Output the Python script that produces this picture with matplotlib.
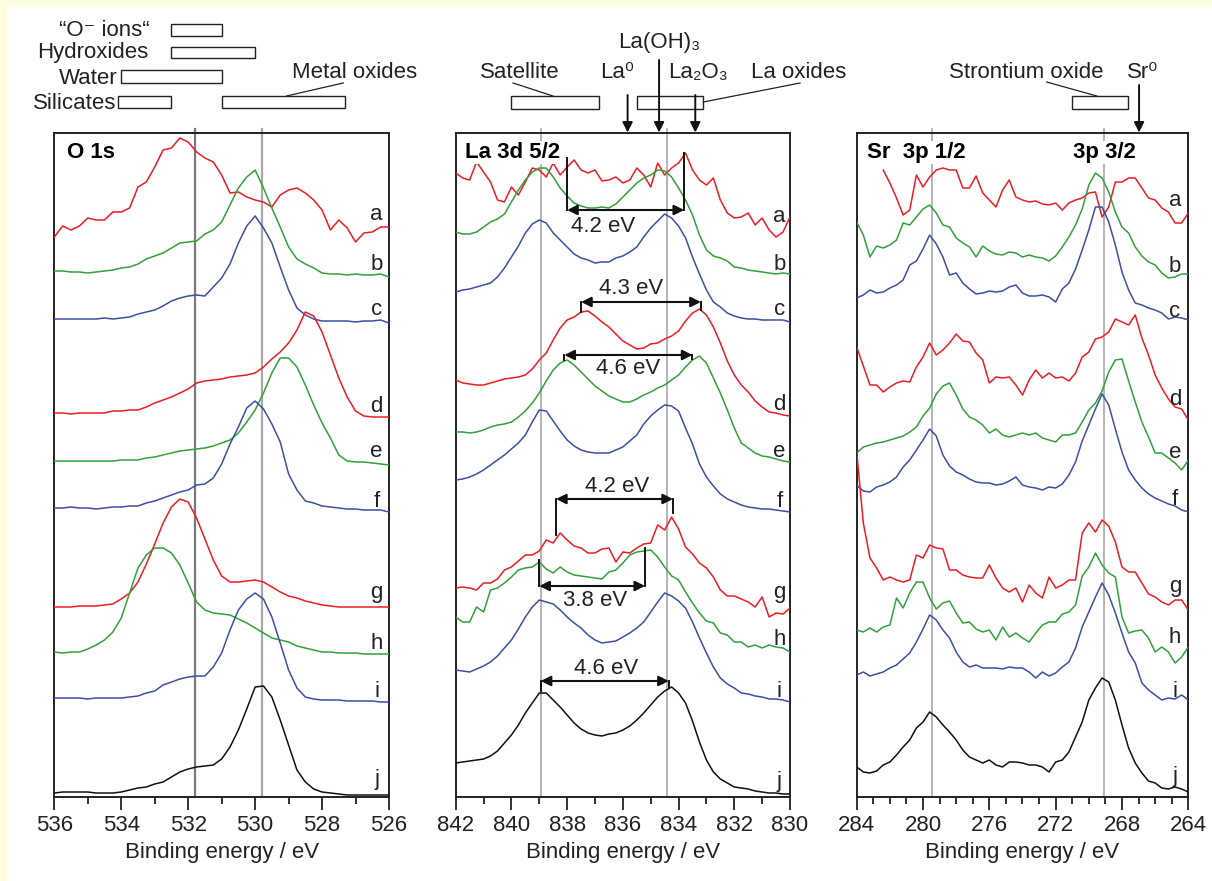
import matplotlib
matplotlib.use('Agg')
import matplotlib.pyplot as plt
import numpy as np
from matplotlib.patches import Rectangle
from matplotlib.ticker import MultipleLocator

plt.rcParams['font.family'] = ['Liberation Sans', 'DejaVu Sans']

# energy grids of the three regions (eV)
e_o1s = np.linspace(536, 526, 41)
e_la = np.linspace(842, 830, 49)
e_sr = np.linspace(284, 264, 51)

labels = ['a', 'b', 'c', 'd', 'e', 'f', 'g', 'h', 'i', 'j']
colors = ['#ed1c24', '#33a03c', '#3d4fa1'] * 3 + ['#111111']

# O 1s spectra, stacked intensity (a.u.)
o1s = {
    'a': [560, 571, 567, 571, 579, 577, 577, 585, 585, 589, 610, 615, 630, 647, 649, 659, 655, 645, 639, 635, 622,
          604, 605, 600, 597, 595, 590, 602, 607, 609, 604, 597, 587, 567, 577, 569, 555, 564, 565, 570, 570],
    'b': [526, 526, 525, 525, 524, 525, 526, 527, 529, 530, 533, 538, 541, 544, 549, 554, 555, 556, 563, 567, 575,
          592, 609, 620, 627, 609, 589, 570, 550, 538, 533, 529, 524, 523, 523, 522, 523, 522, 522, 523, 520],
    'c': [478, 478, 478, 478, 478, 478, 479, 478, 479, 480, 483, 485, 487, 491, 496, 499, 501, 502, 501, 510, 519,
          533, 554, 571, 581, 569, 554, 530, 507, 489, 482, 478, 476, 476, 476, 476, 475, 476, 476, 477, 474],
    'd': [384, 384, 383, 384, 384, 384, 384, 386, 386, 387, 387, 390, 394, 397, 400, 404, 408, 414, 416, 417, 418,
          420, 421, 422, 424, 430, 438, 445, 454, 467, 485, 481, 465, 442, 419, 400, 386, 381, 380, 380, 380],
    'e': [336, 336, 336, 336, 336, 336, 336, 336, 337, 337, 337, 339, 340, 342, 344, 346, 347, 348, 349, 351, 354,
          357, 364, 375, 387, 404, 424, 439, 439, 430, 412, 392, 374, 359, 342, 336, 335, 335, 334, 333, 332],
    'f': [289, 289, 290, 289, 289, 288, 289, 290, 290, 291, 291, 294, 296, 299, 302, 305, 307, 312, 313, 319, 333,
          353, 370, 389, 396, 388, 373, 355, 323, 307, 296, 294, 291, 290, 289, 288, 288, 287, 287, 287, 285],
    'g': [190, 190, 190, 191, 191, 191, 192, 193, 198, 204, 215, 233, 253, 274, 290, 298, 295, 279, 258, 237, 221,
          215, 215, 216, 217, 215, 210, 205, 201, 199, 196, 194, 192, 191, 190, 190, 190, 190, 190, 190, 190],
    'h': [145, 144, 145, 145, 148, 152, 157, 165, 179, 204, 229, 242, 249, 249, 244, 232, 214, 195, 187, 184, 183,
          182, 178, 174, 169, 164, 159, 157, 155, 151, 149, 147, 145, 145, 144, 144, 144, 143, 143, 143, 143],
    'i': [99, 99, 99, 99, 98, 99, 99, 99, 99, 100, 101, 104, 106, 112, 115, 118, 120, 121, 121, 130, 144,
          167, 187, 198, 204, 198, 180, 154, 127, 109, 100, 98, 97, 97, 97, 96, 96, 96, 96, 95, 95],
    'j': [4, 5, 5, 5, 5, 4, 4, 4, 5, 7, 9, 10, 13, 15, 20, 25, 28, 30, 31, 32, 38,
          50, 67, 88, 110, 111, 100, 77, 52, 27, 15, 8, 5, 4, 3, 2, 2, 2, 2, 2, 2],
}

# La 3d 5/2 spectra
la3d = {
    'a': [624, 619, 617, 635, 625, 615, 597, 595, 610, 602, 615, 629, 627, 620, 634, 622, 630, 637, 627, 624, 627, 616,
          617, 620, 614, 617, 629, 622, 610, 634, 622, 629, 634, 644, 627, 617, 612, 619, 597, 584, 579, 580, 584, 572,
          579, 567, 560, 565, 580],
    'b': [565, 563, 563, 565, 570, 575, 578, 583, 595, 607, 617, 625, 629, 629, 620, 609, 601, 594, 591, 589, 589, 590,
          589, 593, 600, 607, 614, 619, 622, 627, 626, 620, 609, 597, 582, 562, 547, 541, 539, 536, 530, 529, 527, 526,
          525, 524, 523, 524, 523],
    'c': [505, 507, 508, 510, 512, 514, 520, 529, 540, 551, 564, 573, 577, 574, 564, 557, 550, 543, 539, 537, 534, 535,
          535, 539, 541, 545, 550, 560, 569, 576, 583, 579, 571, 559, 540, 523, 507, 495, 490, 484, 481, 479, 478, 478,
          477, 477, 477, 477, 475],
    'd': [417, 414, 413, 412, 412, 414, 416, 418, 419, 420, 422, 428, 437, 444, 457, 469, 477, 480, 485, 486, 481, 475,
          470, 463, 456, 452, 448, 449, 453, 454, 458, 461, 466, 476, 484, 488, 482, 470, 454, 436, 422, 412, 405, 396,
          390, 385, 384, 382, 381],
    'e': [365, 365, 364, 365, 367, 370, 372, 373, 375, 380, 386, 394, 404, 416, 427, 434, 437, 432, 425, 418, 411, 406,
          401, 398, 395, 395, 398, 402, 405, 409, 412, 417, 422, 430, 437, 441, 434, 419, 404, 387, 369, 354, 349, 344,
          341, 340, 338, 336, 335],
    'f': [317, 318, 320, 323, 327, 332, 337, 342, 348, 354, 362, 375, 387, 386, 376, 366, 357, 351, 347, 345, 344, 344,
          344, 347, 350, 356, 362, 373, 381, 387, 392, 391, 386, 369, 353, 333, 320, 311, 303, 298, 295, 292, 290, 289,
          288, 288, 287, 286, 285],
    'g': [209, 210, 209, 207, 214, 214, 218, 227, 230, 236, 242, 242, 246, 257, 254, 264, 257, 251, 249, 244, 244, 248,
          249, 235, 245, 244, 249, 253, 254, 272, 267, 280, 268, 250, 243, 234, 229, 220, 207, 201, 201, 198, 195, 190,
          200, 180, 184, 183, 189],
    'h': [180, 175, 175, 190, 185, 207, 209, 214, 220, 227, 229, 230, 235, 228, 224, 230, 225, 222, 221, 220, 219, 218,
          225, 227, 234, 242, 245, 246, 247, 240, 230, 221, 217, 205, 194, 184, 176, 174, 164, 162, 155, 155, 150, 152,
          149, 152, 150, 149, 145],
    'i': [127, 126, 125, 128, 131, 135, 141, 149, 157, 168, 180, 190, 197, 195, 193, 187, 180, 174, 169, 162, 157, 154,
          155, 156, 160, 164, 169, 175, 185, 195, 204, 201, 196, 189, 175, 159, 144, 130, 119, 113, 109, 104, 103, 101,
          100, 98, 98, 97, 95],
    'j': [34, 35, 36, 37, 38, 41, 46, 54, 62, 72, 84, 94, 104, 104, 97, 90, 82, 74, 68, 64, 62, 61, 63, 64, 67, 71, 77,
          84, 92, 100, 106, 110, 104, 94, 76, 55, 37, 25, 18, 14, 10, 9, 8, 6, 5, 4, 4, 3, 3],
}

# Sr 3p spectra
nan = np.nan
sr3p = {
    'a': [nan, nan, nan, nan, 627, 614, 599, 582, 587, 622, 610, 620, 627, 629, 627, 627, 609, 609, 621, 604, 597, 590,
          607, 617, 600, 597, 595, 596, 593, 592, 594, 587, 594, 597, 599, 604, 605, 580, 590, 615, 615, 619, 619, 609,
          599, 597, 589, 585, 574, 574, 584],
    'b': [575, 562, 540, 551, 549, 552, 557, 574, 572, 580, 588, 592, 584, 572, 570, 559, 554, 550, 540, 551, 546, 543,
          542, 545, 544, 540, 542, 540, 539, 536, 541, 550, 560, 572, 588, 612, 624, 619, 605, 585, 570, 564, 550, 541,
          535, 532, 524, 519, 520, 523, 523],
    'c': [499, 502, 507, 504, 505, 509, 512, 517, 532, 536, 548, 562, 553, 540, 522, 524, 514, 508, 503, 504, 506, 505,
          506, 510, 512, 504, 501, 501, 502, 500, 495, 508, 514, 528, 547, 567, 590, 590, 575, 552, 525, 507, 494, 492,
          489, 487, 484, 478, 480, 479, 477],
    'd': [450, 431, 412, 412, 405, 410, 414, 416, 415, 430, 440, 454, 442, 447, 454, 463, 456, 455, 444, 437, 414, 420,
          419, 420, 412, 402, 417, 427, 419, 424, 419, 420, 416, 424, 440, 445, 458, 460, 465, 478, 475, 472, 482, 459,
          442, 422, 409, 398, 390, 388, 377],
    'e': [344, 350, 352, 354, 355, 357, 359, 361, 365, 370, 381, 389, 403, 411, 414, 402, 388, 380, 377, 372, 364, 368,
          362, 360, 362, 364, 362, 364, 359, 357, 355, 362, 362, 364, 375, 387, 394, 406, 425, 437, 438, 416, 395, 375,
          360, 344, 344, 339, 334, 327, 337],
    'f': [312, 306, 305, 310, 312, 315, 320, 330, 337, 347, 357, 368, 361, 342, 331, 325, 322, 318, 315, 314, 314, 312,
          313, 316, 320, 312, 310, 309, 307, 310, 309, 313, 322, 335, 356, 372, 388, 403, 392, 368, 345, 327, 317, 309,
          303, 299, 296, 293, 291, 287, 285],
    'g': [345, 274, 239, 229, 217, 220, 217, 215, 217, 242, 239, 252, 249, 248, 227, 227, 222, 220, 219, 219, 232, 219,
          209, 205, 209, 195, 212, 204, 199, 220, 209, 212, 217, 217, 264, 274, 265, 277, 271, 255, 230, 225, 225, 214,
          203, 200, 195, 192, 197, 197, 187],
    'h': [167, 165, 169, 165, 170, 172, 199, 189, 204, 215, 215, 199, 188, 194, 196, 184, 174, 175, 168, 165, 167, 157,
          170, 160, 164, 159, 155, 164, 172, 175, 175, 183, 185, 192, 221, 230, 244, 232, 224, 220, 180, 164, 166, 167,
          159, 145, 150, 145, 134, 140, 150],
    'i': [122, 125, 121, 123, 125, 129, 132, 138, 144, 155, 168, 182, 177, 167, 159, 145, 135, 130, 132, 129, 129, 129,
          128, 130, 129, 129, 125, 119, 125, 121, 124, 130, 135, 149, 170, 185, 200, 214, 202, 184, 164, 145, 134, 114,
          107, 102, 97, 99, 98, 102, 97],
    'j': [30, 25, 24, 26, 32, 35, 42, 50, 57, 69, 75, 85, 80, 72, 65, 57, 47, 40, 37, 34, 37, 32, 30, 35, 35, 34, 32,
          32, 30, 25, 35, 37, 45, 60, 75, 97, 109, 119, 115, 97, 72, 49, 34, 24, 16, 14, 9, 8, 10, 8, 5],
}

# baseline heights of the a..j letters
label_y_o1s = [577, 527, 482, 385, 340, 290, 199, 148, 100, 12]
label_y_la = [575, 527, 482, 387, 340, 290, 199, 152, 100, 10]
label_y_sr = [591, 525, 480, 392, 339, 292, 205, 154, 100, 15]

# reference energies (eV)
o1s_lines = [531.8, 529.8]
la_lines = [838.95, 834.4]
sr_lines = [279.45, 269.1]

# La 3d multiplet splittings: left peak energy, splitting, arrow height
split_left = [838.0, 837.5, 838.1, 838.4, 839.0, 838.95]
split_val = [4.2, 4.3, 4.6, 4.2, 3.8, 4.6]
split_y = [587, 495, 442, 298, 211, 116]
split_left_end = [639, 485, 437, 262, 237, 106]
split_right_end = [644, 487, 438, 284, 249, 110]
split_text_x = [836.7, 835.7, 835.8, 836.2, 837.0, 836.6]
split_text_y = [570, 509, 429, 310, 197, 128]

YMAX = 664.5
fs = 16

fig = plt.figure(figsize=(12.12, 8.81), dpi=100, facecolor='#fffde0')
fig.add_artist(Rectangle((7 / 1212, 0), 1, 874 / 881, transform=fig.transFigure,
                         facecolor='white', edgecolor='none', zorder=-5))

bottom, height = 84 / 881, 664.5 / 881
ax1 = fig.add_axes([54.3 / 1212, bottom, 334.7 / 1212, height])
ax2 = fig.add_axes([455.7 / 1212, bottom, 334.3 / 1212, height])
ax3 = fig.add_axes([856.7 / 1212, bottom, 331.6 / 1212, height])


def setup(ax, xlim, major):
    ax.set_xlim(*xlim)
    ax.set_ylim(0, YMAX)
    ax.set_yticks([])
    ax.xaxis.set_major_locator(MultipleLocator(major))
    ax.xaxis.set_minor_locator(MultipleLocator(1))
    ax.tick_params(axis='x', which='major', direction='out', length=9, width=1.3,
                   labelsize=fs, pad=4, colors='#222222')
    ax.tick_params(axis='x', which='minor', direction='out', length=5, width=1.3, colors='#222222')
    for s in ax.spines.values():
        s.set_linewidth(1.4)
        s.set_color('#222222')
    ax.set_xlabel('Binding energy / eV', fontsize=fs, labelpad=4, color='#222222')


def draw_spectra(ax, energy, spectra, label_x, label_y):
    for lab, col, ly in zip(labels, colors, label_y):
        ax.plot(energy, spectra[lab], color=col, lw=1.1, zorder=3)
        ax.text(label_x, ly, lab, fontsize=fs, ha='center', va='baseline', color='#222222', zorder=4)


def box(ax, e0, e1, y0, y1):
    ax.add_patch(Rectangle((min(e0, e1), y0), abs(e1 - e0), y1 - y0, facecolor='white',
                           edgecolor='#222222', lw=1.0, clip_on=False))


def down_arrow(ax, e, ytop):
    ax.annotate('', xy=(e, YMAX), xytext=(e, ytop), annotation_clip=False,
                arrowprops=dict(arrowstyle='-|>', color='#111111', lw=1.4, mutation_scale=15,
                                shrinkA=0, shrinkB=0))


def note(ax, x, y, s, ha='center'):
    ax.text(x, y, s, fontsize=fs, ha=ha, va='baseline', color='#222222', clip_on=False)


# ---- O 1s ----
setup(ax1, (536, 526), 2)
ax1.axvline(o1s_lines[0], color='#7a7a7a', lw=1.6, ymax=1.005, clip_on=False, zorder=1)
ax1.axvline(o1s_lines[1], color='#a8a8a8', lw=1.6, ymax=1.005, clip_on=False, zorder=1)
draw_spectra(ax1, e_o1s, o1s, 526.37, label_y_o1s)
ax1.text(535.63, 639, 'O 1s', fontsize=fs, fontweight='bold', va='baseline', zorder=5,
         bbox=dict(facecolor='white', edgecolor='none', pad=1))

note(ax1, 533.14, 761, '“O⁻ ions“', ha='right')
box(ax1, 532.5, 531.0, 761, 773)
note(ax1, 533.2, 739, 'Hydroxides', ha='right')
box(ax1, 532.5, 530.0, 739, 750)
note(ax1, 534.1, 713, 'Water', ha='right')
box(ax1, 534.0, 531.0, 714, 727)
note(ax1, 534.14, 688, 'Silicates', ha='right')
box(ax1, 534.1, 532.5, 689, 701)
box(ax1, 531.0, 527.3, 689, 701)
note(ax1, 527.04, 719, 'Metal oxides')
ax1.plot([527.37, 529.06], [714, 701], color='#222222', lw=0.9, clip_on=False)

# ---- La 3d 5/2 ----
setup(ax2, (842, 830), 2)
for e in la_lines:
    ax2.axvline(e, color='#a8a8a8', lw=1.2, ymax=1.005, clip_on=False, zorder=1)
draw_spectra(ax2, e_la, la3d, 830.38, label_y_la)
ax2.text(841.67, 639, 'La 3d 5/2', fontsize=fs, fontweight='bold', va='baseline', zorder=5,
         bbox=dict(facecolor='white', edgecolor='none', pad=1))

for left, val, y, yl, yr, tx, ty in zip(split_left, split_val, split_y, split_left_end,
                                        split_right_end, split_text_x, split_text_y):
    right = left - val
    ax2.plot([left, left], [y, yl], color='#111111', lw=1.4, zorder=6)
    ax2.plot([right, right], [y, yr], color='#111111', lw=1.4, zorder=6)
    ax2.annotate('', xy=(right, y), xytext=(left, y),
                 arrowprops=dict(arrowstyle='<|-|>', color='#111111', lw=1.5, mutation_scale=15,
                                 shrinkA=0, shrinkB=0), zorder=6)
    ax2.text(tx, ty, f'{val:.1f} eV', fontsize=fs, ha='center', va='center', color='#222222', zorder=6)

note(ax2, 839.69, 719, 'Satellite')
box(ax2, 840.0, 836.85, 688, 701)
ax2.plot([839.94, 838.51], [714, 701], color='#222222', lw=0.9, clip_on=False)
note(ax2, 836.2, 719, 'La⁰')
down_arrow(ax2, 835.83, 702)
note(ax2, 834.7, 749, 'La(OH)₃')
down_arrow(ax2, 834.7, 737)
note(ax2, 833.32, 719, 'La₂O₃')
box(ax2, 835.48, 833.11, 688, 701)
down_arrow(ax2, 833.4, 702)
note(ax2, 829.68, 719, 'La oxides')
ax2.plot([833.11, 829.64], [695, 714], color='#222222', lw=0.9, clip_on=False)

# ---- Sr 3p ----
setup(ax3, (284, 264), 4)
for e in sr_lines:
    ax3.axvline(e, color='#a8a8a8', lw=1.2, ymax=1.005, clip_on=False, zorder=1)
draw_spectra(ax3, e_sr, sr3p, 264.8, label_y_sr)
ax3.text(283.4, 639, 'Sr  3p 1/2', fontsize=fs, fontweight='bold', va='baseline', zorder=5,
         bbox=dict(facecolor='white', edgecolor='none', pad=1))
ax3.text(270.95, 639, '3p 3/2', fontsize=fs, fontweight='bold', va='baseline', zorder=5,
         bbox=dict(facecolor='white', edgecolor='none', pad=1))

note(ax3, 273.8, 719, 'Strontium oxide')
box(ax3, 271.03, 267.62, 688, 701)
ax3.plot([272.54, 269.52], [715, 701], color='#222222', lw=0.9, clip_on=False)
note(ax3, 266.76, 719, 'Sr⁰')
down_arrow(ax3, 266.97, 712)

fig.savefig('out.png', dpi=100, facecolor=fig.get_facecolor())
